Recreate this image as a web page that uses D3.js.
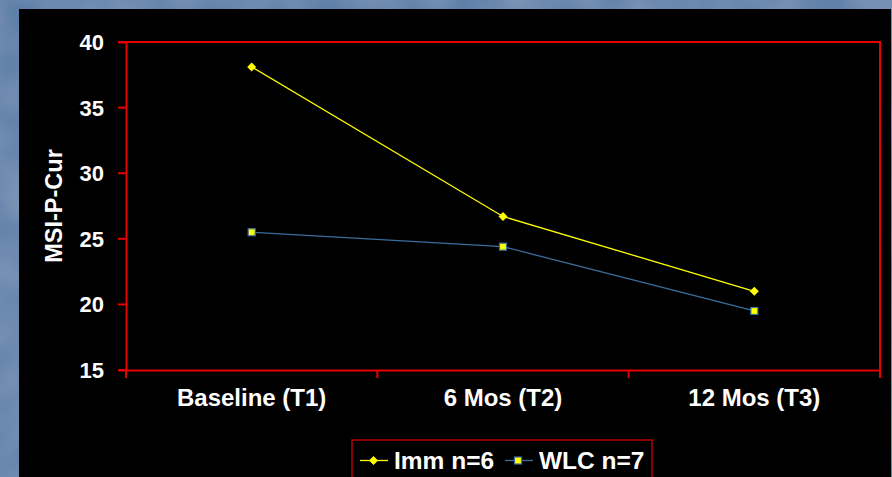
<!DOCTYPE html>
<html>
<head>
<meta charset="utf-8">
<script src="https://cdn.jsdelivr.net/npm/d3@7/dist/d3.min.js"></script>
<style>
  html, body { margin: 0; padding: 0; background: #6686ae; }
  svg { display: block; }
  text { font-family: "Liberation Sans", Arial, sans-serif; font-weight: bold; fill: #ffffff; }
</style>
</head>
<body>
<svg id="chart" width="892" height="477"></svg>
<script>
// Time points and mean MSI-P-Cur scores per group
const categories = ["Baseline (T1)", "6 Mos (T2)", "12 Mos (T3)"];
const immValues = [38.1, 26.7, 21.0];
const wlcValues = [25.5, 24.4, 19.5];
const seriesNames = ["Imm n=6", "WLC n=7"];
const yTicks = [15, 20, 25, 30, 35, 40];
const yTitle = "MSI-P-Cur";

const W = 892, H = 477;
const svg = d3.select("#chart");

// Softly textured blue slide background
const defs = svg.append("defs");
const tex = defs.append("filter").attr("id", "tex").attr("x", 0).attr("y", 0).attr("width", "100%").attr("height", "100%");
tex.append("feTurbulence").attr("type", "fractalNoise").attr("baseFrequency", 0.02).attr("numOctaves", 2).attr("seed", 4).attr("result", "n");
tex.append("feColorMatrix").attr("in", "n").attr("type", "matrix")
  .attr("values", "0 0 0 0 0.85  0 0 0 0 0.9  0 0 0 0 1  0 0 0 0.22 -0.06").attr("result", "w");
tex.append("feComposite").attr("in", "w").attr("in2", "SourceGraphic").attr("operator", "over");
svg.append("rect").attr("width", W).attr("height", H).attr("fill", "#5f80a9").attr("filter", "url(#tex)");

// Black chart panel
svg.append("rect").attr("x", 19).attr("y", 9).attr("width", 872).attr("height", H - 9).attr("fill", "#000000");

const plot = { left: 126, top: 42, right: 880, bottom: 370 };

const x = d3.scaleBand().domain(categories).range([plot.left, plot.right]);
const y = d3.scaleLinear().domain([15, 40]).range([plot.bottom, plot.top]);

const red = "#e60000";
const sw = 2;

// Plot border (top and right)
svg.append("path")
  .attr("d", `M${plot.left},${plot.top}H${plot.right}V${plot.bottom}`)
  .attr("fill", "none").attr("stroke", red).attr("stroke-width", sw);

// Y axis
const yAxis = svg.append("g").attr("transform", `translate(${plot.left},0)`)
  .call(d3.axisLeft(y).tickValues(yTicks).tickSize(8).tickPadding(14).tickFormat(d3.format("d")));
yAxis.select(".domain").attr("stroke", red).attr("stroke-width", sw);
yAxis.selectAll(".tick").attr("transform", d => `translate(0,${y(d)})`);
yAxis.selectAll(".tick line").attr("stroke", red).attr("stroke-width", sw);
yAxis.selectAll(".tick text").attr("font-size", 22).attr("fill", "#fff").attr("dy", "0.36em")
  .style("font-family", "'Liberation Sans', Arial, sans-serif").style("font-weight", "bold");

// X axis with ticks between categories
const xAxis = svg.append("g").attr("transform", `translate(0,${plot.bottom})`)
  .call(d3.axisBottom(x).tickSize(0).tickPadding(19));
xAxis.select(".domain").attr("stroke", red).attr("stroke-width", sw);
xAxis.selectAll(".tick text").attr("font-size", 24).attr("fill", "#fff").attr("dy", "0.71em")
  .style("font-family", "'Liberation Sans', Arial, sans-serif").style("font-weight", "bold");
const bounds = categories.map(c => x(c)).concat([x.range()[1]]);
xAxis.selectAll(".sep").data(bounds).enter().append("line").attr("class", "sep")
  .attr("x1", d => d).attr("x2", d => d).attr("y1", 0).attr("y2", 8)
  .attr("stroke", red).attr("stroke-width", sw);

// Y axis title
svg.append("text")
  .attr("transform", `translate(62,${(plot.top + plot.bottom) / 2}) rotate(-90)`)
  .attr("text-anchor", "middle").attr("font-size", 23.5).text(yTitle);

const cx = c => x(c) + x.bandwidth() / 2;
const line = d3.line().x(d => cx(d.c)).y(d => y(d.v));

const imm = categories.map((c, i) => ({ c, v: immValues[i] }));
const wlc = categories.map((c, i) => ({ c, v: wlcValues[i] }));

const wlcColor = "#3a6e9e", immColor = "#ffff00";

svg.append("path").datum(wlc).attr("d", line).attr("fill", "none").attr("stroke", wlcColor).attr("stroke-width", 1.3);
svg.append("path").datum(imm).attr("d", line).attr("fill", "none").attr("stroke", immColor).attr("stroke-width", 1.3);

function square(g, px, py) {
  g.append("rect").attr("x", px - 3.5).attr("y", py - 3.5).attr("width", 7).attr("height", 7)
    .attr("fill", "#ffff00").attr("stroke", "#3a6e9e").attr("stroke-width", 1.2);
}
function diamond(g, px, py) {
  g.append("path").attr("d", `M${px},${py - 4.5}L${px + 4.5},${py}L${px},${py + 4.5}L${px - 4.5},${py}Z`)
    .attr("fill", "#ffff00");
}
const marks = svg.append("g");
wlc.forEach(d => square(marks, cx(d.c), y(d.v)));
imm.forEach(d => diamond(marks, cx(d.c), y(d.v)));

// Legend
const lg = svg.append("g");
lg.append("rect").attr("x", 352).attr("y", 440).attr("width", 300).attr("height", 45)
  .attr("fill", "none").attr("stroke", "#b80000").attr("stroke-width", 1.5);
lg.append("line").attr("x1", 360).attr("x2", 388).attr("y1", 460.5).attr("y2", 460.5).attr("stroke", immColor).attr("stroke-width", 1.3);
diamond(lg, 373.5, 460.5);
lg.append("text").attr("x", 394).attr("y", 469).attr("font-size", 24.5).text(seriesNames[0]);
lg.append("line").attr("x1", 505).attr("x2", 533).attr("y1", 460.5).attr("y2", 460.5).attr("stroke", wlcColor).attr("stroke-width", 1.3);
square(lg, 518, 460.5);
lg.append("text").attr("x", 539).attr("y", 469).attr("font-size", 24.5).text(seriesNames[1]);
</script>
</body>
</html>
